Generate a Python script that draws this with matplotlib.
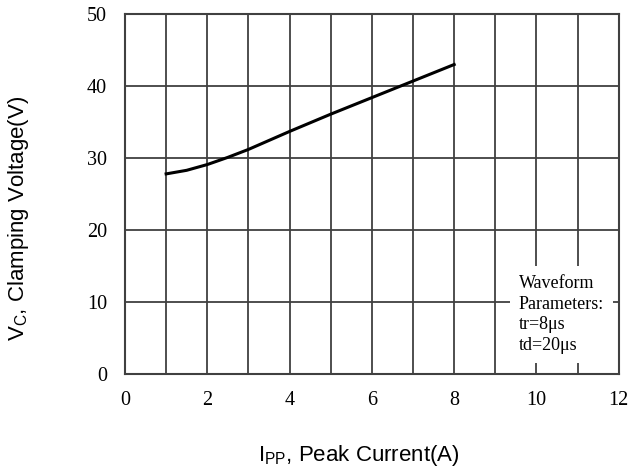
import matplotlib.pyplot as plt
import numpy as np

# curve
ipp = [1.0, 1.5, 2.0, 2.5, 3.0, 4.0, 5.0, 6.0, 7.0, 8.0]
vc = [27.8, 28.3, 29.1, 30.1, 31.2, 33.7, 36.1, 38.4, 40.7, 43.0]

x_ticks = [0, 2, 4, 6, 8, 10, 12]
y_ticks = [0, 10, 20, 30, 40, 50]
note = "Waveform\nParameters:\ntr=8\u03bcs\ntd=20\u03bcs"

grid_col = '#404040'

fig = plt.figure(figsize=(6.29, 4.71), dpi=100)
ax = fig.add_axes([0.1987, 0.206, 0.785, 0.764])

ax.plot(ipp, vc, color='black', lw=2.2, zorder=3)

ax.set_xlim(0, 12)
ax.set_ylim(0, 50)
ax.set_xticks(x_ticks)
ax.set_yticks(y_ticks)
ax.set_xticks(np.arange(0, 13, 1), minor=True)
ax.grid(which='both', axis='x', color=grid_col, lw=1.3)
ax.grid(which='major', axis='y', color=grid_col, lw=1.3)
ax.tick_params(which='both', length=0)
ax.tick_params(axis='x', pad=12)
ax.tick_params(axis='y', pad=13)
for lab in ax.get_xticklabels() + ax.get_yticklabels():
    lab.set_fontfamily('Liberation Serif')
    lab.set_fontsize(14.5)
for s in ax.spines.values():
    s.set_color(grid_col)
    s.set_linewidth(1.5)

ax.text(9.57, 13.8, note, family='Liberation Serif', fontsize=13, va='top', ha='left',
        linespacing=1.3, zorder=4,
        bbox=dict(facecolor='white', edgecolor='none', pad=6.5))

fig.text(0.029, 0.537, 'V$_\\mathregular{C}$, Clamping Voltage(V)', rotation=90,
         ha='center', va='center', family='Liberation Sans', fontsize=16)
fig.text(0.571, 0.032, 'I$_\\mathregular{PP}$, Peak Current(A)',
         ha='center', va='center', family='Liberation Sans', fontsize=16)

fig.savefig('out.png', dpi=100)
